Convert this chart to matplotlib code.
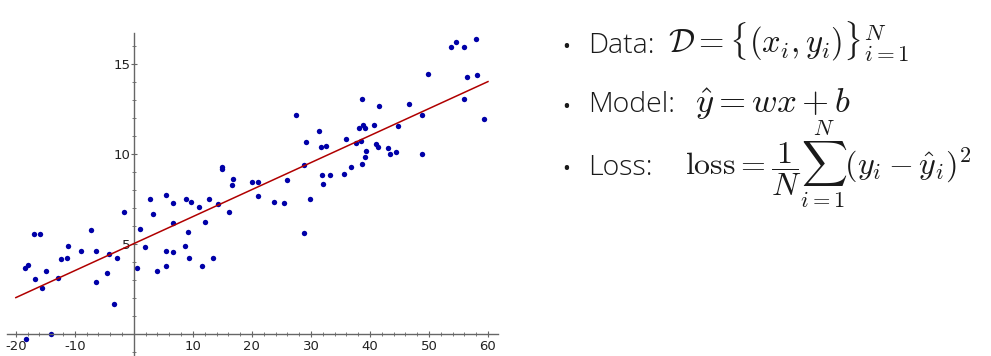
import numpy as np
import matplotlib
matplotlib.use("Agg")
import matplotlib.pyplot as plt
from matplotlib.ticker import MultipleLocator, FixedLocator

plt.rcParams['axes.unicode_minus'] = False
plt.rcParams['mathtext.fontset'] = 'cm'

# scatter data
x_vals = [-18.5, -18.0, -17.0, -15.9, -16.8, -15.6, -14.9, -12.8, -12.3, -11.4,
          -11.1, -8.9, -7.3, -6.5, -6.5, -4.6, -4.3, -3.3, -2.8, -1.7,
          -14.0, -18.3, 0.6, 1.0, 1.9, 2.7, 3.2, 3.9, 5.5, 5.5,
          5.5, 6.7, 6.7, 6.7, 8.6, 8.9, 9.2, 9.4, 9.7, 11.1,
          11.6, 12.0, 12.7, 13.4, 14.2, 16.2, 16.6, 16.8, 20.1, 21.0,
          21.1, 14.9, 15.0, 23.8, 25.4, 26.0, 27.5, 28.8, 28.8, 29.2,
          29.8, 31.4, 31.7, 32.6, 31.9, 32.1, 33.2, 35.6, 36.0, 36.8,
          37.6, 38.2, 38.5, 38.7, 38.9, 39.2, 38.7, 39.2, 39.4, 40.7,
          41.5, 41.1, 41.4, 43.0, 43.4, 44.4, 44.7, 46.6, 48.8, 48.8,
          49.9, 53.8, 54.6, 55.9, 57.9, 55.9, 56.5, 58.1, 59.4]
y_vals = [3.67, 3.81, 5.56, 5.56, 3.06, 2.52, 3.50, 3.09, 4.15, 4.22,
          4.85, 4.57, 5.76, 4.57, 2.89, 3.37, 4.44, 1.67, 4.20, 6.74,
          -0.04, -0.32, 3.67, 5.79, 4.81, 7.48, 6.63, 3.50, 7.72, 4.61,
          3.74, 7.24, 6.13, 4.52, 4.89, 7.48, 5.63, 4.18, 7.31, 7.03,
          3.76, 6.18, 7.50, 4.20, 7.20, 6.74, 8.26, 8.57, 8.44, 8.44,
          7.65, 9.26, 9.13, 7.29, 7.28, 8.55, 12.13, 9.37, 5.61, 10.63,
          7.48, 11.26, 10.37, 10.41, 8.79, 8.31, 8.81, 8.85, 10.83, 9.26,
          10.61, 11.42, 10.68, 13.03, 11.57, 11.42, 9.41, 9.83, 10.17, 11.57,
          12.63, 10.53, 10.39, 10.31, 10.00, 10.11, 11.53, 12.78, 12.17, 9.96,
          14.41, 15.94, 16.22, 15.92, 16.39, 13.02, 14.26, 14.39, 11.94]

# fitted line y = w*x + b
w = 0.15
b = 5.0
line_x = np.array([-20, 60])

x_ticks = [-20, -10, 10, 20, 30, 40, 50, 60]
y_ticks = [5, 10, 15]

# slide text: label, formula
labels = ['Data:', 'Model:', 'Loss:']
formulas = [r'$\mathcal{D}=\{(x_i,y_i)\}_{i=1}^N$',
            r'$\hat{y}=wx+b$',
            r'$\mathrm{loss}=\dfrac{1}{N}\sum_{i=1}^{N}(y_i-\hat{y}_i)^2$']

fig = plt.figure(figsize=(9.91, 3.56), dpi=100)
ax = fig.add_axes([7 / 991, -1 / 356, 491 / 991, 324 / 356])

ax.scatter(x_vals, y_vals, s=15, color='#0000a8', zorder=2, linewidths=0)
ax.plot(line_x, w * line_x + b, color='#b00000', lw=1.1, zorder=3)

ax.set_xlim(-21.5, 61.7)
ax.set_ylim(-1.3, 16.7)

for side in ['top', 'right']:
    ax.spines[side].set_visible(False)
ax.spines['left'].set_position(('data', 0))
ax.spines['bottom'].set_position(('data', 0))
for side in ['left', 'bottom']:
    ax.spines[side].set_color('#666666')
    ax.spines[side].set_linewidth(1.0)

ax.xaxis.set_major_locator(FixedLocator(x_ticks))
ax.xaxis.set_minor_locator(MultipleLocator(2))
ax.yaxis.set_major_locator(FixedLocator(y_ticks))
ax.yaxis.set_minor_locator(MultipleLocator(1))
ax.tick_params(which='major', direction='inout', length=5, width=0.8,
               color='#666666', labelsize=9.5, labelcolor='#222222')
ax.tick_params(which='minor', direction='inout', length=3, width=0.6, color='#666666')
ax.tick_params(axis='x', pad=2)
ax.tick_params(axis='y', pad=0)

# bullets on the right (baselines and formula starts in pixels)
baselines = [52.7, 112.5, 175.5]
math_x = [668, 695, 685]
math_size = [23.5, 25, 23]
for lab, f, base, mx, ms in zip(labels, formulas, baselines, math_x, math_size):
    yy = 1 - base / 356
    fig.text(562 / 991, yy, '•', fontsize=15, family='Open Sans',
             va='baseline', color='#1a1a1a')
    fig.text(588 / 991, yy, lab, fontsize=20.5, family='Open Sans',
             fontweight='light', va='baseline', color='#1a1a1a')
    fig.text(mx / 991, yy, f, fontsize=ms, va='baseline', color='#1a1a1a')

plt.savefig('out.png', dpi=100)
